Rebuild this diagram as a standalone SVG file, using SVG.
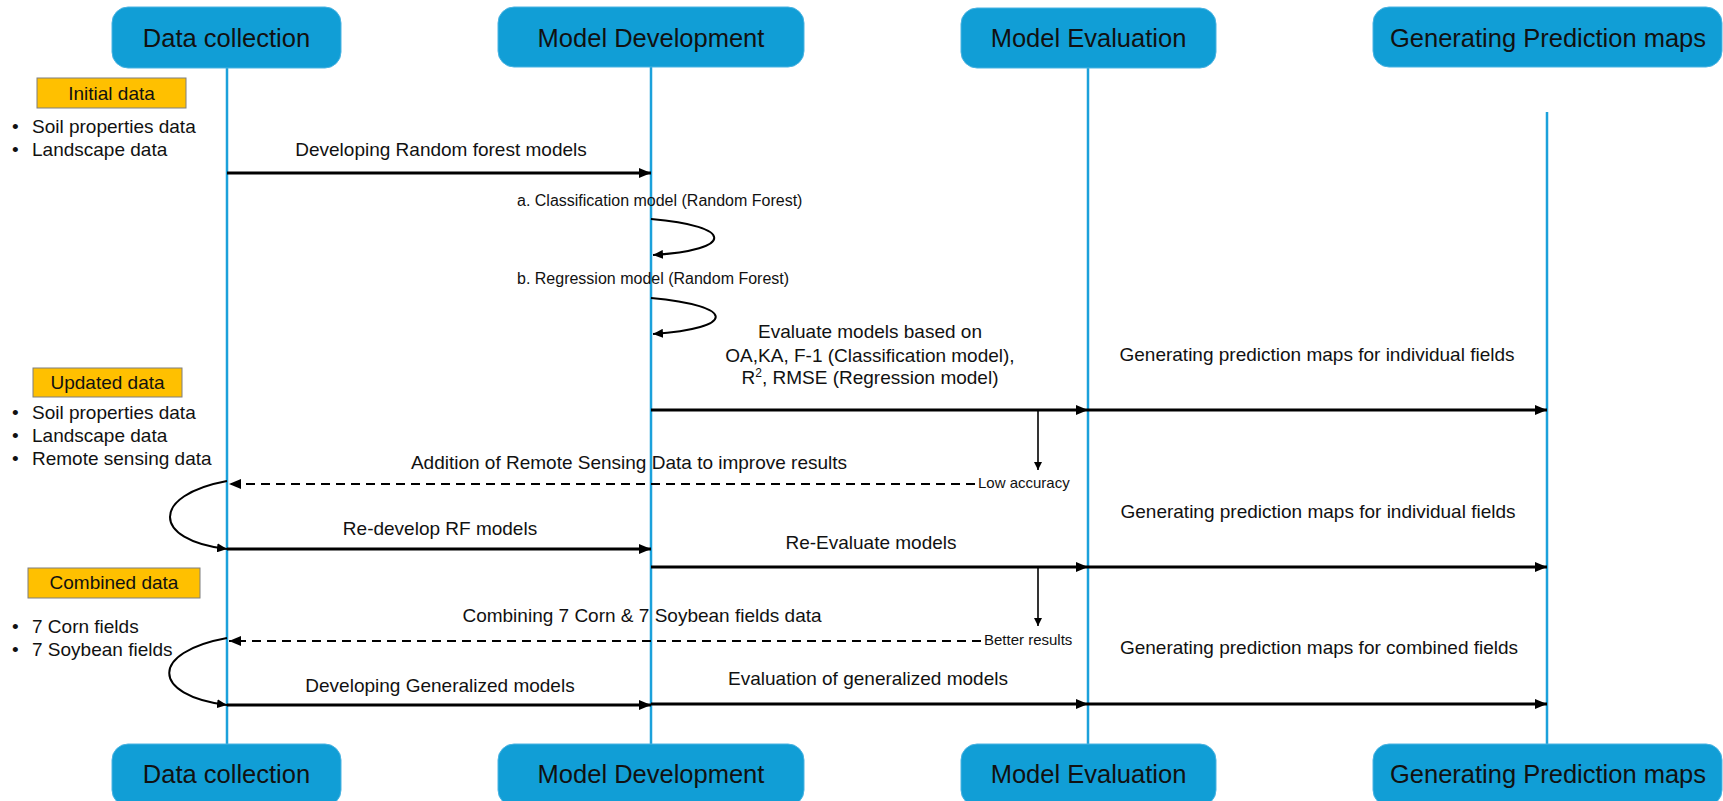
<svg xmlns="http://www.w3.org/2000/svg" width="1723" height="801" viewBox="0 0 1723 801">
<style>
text{font-family:"Liberation Sans",Arial,sans-serif;fill:#111}
.hdr{fill:#119ed6;stroke:#4ab3e2;stroke-width:1}
.hdrt{font-size:25.5px;text-anchor:middle}
.tag{fill:#ffc000;stroke:#7f7f7f;stroke-width:1}
.tagt{font-size:19px;text-anchor:middle}
.b{font-size:19px}
.lbl{font-size:19px;text-anchor:middle}
.sm{font-size:16px}
.xs{font-size:15px}
.life{stroke:#1ba1db;stroke-width:2.5;fill:none}
.msg{stroke:#000;stroke-width:3;fill:none;marker-end:url(#ah)}
.dash{stroke:#000;stroke-width:2.2;fill:none;stroke-dasharray:9 6;marker-end:url(#ah)}
.loop{stroke:#000;stroke-width:2;fill:none;marker-end:url(#ah2)}
.down{stroke:#000;stroke-width:1.6;fill:none;marker-end:url(#ah3)}
</style>
<defs>
<marker id="ah" markerUnits="userSpaceOnUse" markerWidth="12" markerHeight="10" refX="12" refY="5" orient="auto"><path d="M0,0 L12,5 L0,10 z" fill="#000"/></marker>
<marker id="ah2" markerUnits="userSpaceOnUse" markerWidth="10" markerHeight="9" refX="10" refY="4.5" orient="auto"><path d="M0,0 L10,4.5 L0,9 z" fill="#000"/></marker>
<marker id="ah3" markerUnits="userSpaceOnUse" markerWidth="8" markerHeight="8" refX="8" refY="4" orient="auto"><path d="M0,0 L8,4 L0,8 z" fill="#000"/></marker>
</defs>
<rect width="1723" height="801" fill="#fff"/>

<g id="lifelines">
<line class="life" x1="227" y1="68" x2="227" y2="745"/>
<line class="life" x1="651" y1="67" x2="651" y2="745"/>
<line class="life" x1="1088" y1="68" x2="1088" y2="745"/>
<line class="life" x1="1547" y1="112" x2="1547" y2="745"/>
</g>

<g id="node-data-collection-top"><rect class="hdr" x="112" y="7" width="229" height="61" rx="16"/><text class="hdrt" x="226.5" y="47">Data collection</text></g>
<g id="node-model-development-top"><rect class="hdr" x="498" y="7" width="306" height="60" rx="16"/><text class="hdrt" x="651" y="47">Model Development</text></g>
<g id="node-model-evaluation-top"><rect class="hdr" x="961" y="8" width="255" height="60" rx="16"/><text class="hdrt" x="1088.5" y="47">Model Evaluation</text></g>
<g id="node-prediction-maps-top"><rect class="hdr" x="1373" y="7" width="349" height="60" rx="16"/><text class="hdrt" x="1548" y="47">Generating Prediction maps</text></g>

<g id="node-data-collection-bottom"><rect class="hdr" x="112" y="744" width="229" height="62" rx="16"/><text class="hdrt" x="226.5" y="783">Data collection</text></g>
<g id="node-model-development-bottom"><rect class="hdr" x="498" y="744" width="306" height="62" rx="16"/><text class="hdrt" x="651" y="783">Model Development</text></g>
<g id="node-model-evaluation-bottom"><rect class="hdr" x="961" y="744" width="255" height="62" rx="16"/><text class="hdrt" x="1088.5" y="783">Model Evaluation</text></g>
<g id="node-prediction-maps-bottom"><rect class="hdr" x="1373" y="744" width="349" height="62" rx="16"/><text class="hdrt" x="1548" y="783">Generating Prediction maps</text></g>

<g id="node-initial-data"><rect class="tag" x="37" y="78" width="149" height="30"/><text class="tagt" x="111.5" y="100">Initial data</text>
<text class="b" x="12" y="133">•</text><text class="b" x="32" y="133">Soil properties data</text>
<text class="b" x="12" y="156">•</text><text class="b" x="32" y="156">Landscape data</text></g>

<g id="node-updated-data"><rect class="tag" x="33" y="368" width="149" height="29"/><text class="tagt" x="107.5" y="389">Updated data</text>
<text class="b" x="12" y="419">•</text><text class="b" x="32" y="419">Soil properties data</text>
<text class="b" x="12" y="442">•</text><text class="b" x="32" y="442">Landscape data</text>
<text class="b" x="12" y="465">•</text><text class="b" x="32" y="465">Remote sensing data</text></g>

<g id="node-combined-data"><rect class="tag" x="28" y="568" width="172" height="30"/><text class="tagt" x="114" y="589">Combined data</text>
<text class="b" x="12" y="633">•</text><text class="b" x="32" y="633">7 Corn fields</text>
<text class="b" x="12" y="656">•</text><text class="b" x="32" y="656">7 Soybean fields</text></g>

<g id="connectors">
<line class="msg" x1="227" y1="173" x2="651" y2="173"/>
<path class="loop" d="M651,219 C735,226 735,250 653,255"/>
<path class="loop" d="M651,298 C737,306 737,328 653,334"/>
<line class="msg" x1="651" y1="410" x2="1088" y2="410"/>
<line class="msg" x1="1088" y1="410" x2="1547" y2="410"/>
<line class="down" x1="1038" y1="410" x2="1038" y2="470"/>
<line class="dash" x1="975" y1="484" x2="229" y2="484"/>
<path class="loop" d="M227,481 C151,495 151,540 227,549"/>
<line class="msg" x1="227" y1="549" x2="651" y2="549"/>
<line class="msg" x1="651" y1="567" x2="1088" y2="567"/>
<line class="msg" x1="1088" y1="567" x2="1547" y2="567"/>
<line class="down" x1="1038" y1="567" x2="1038" y2="626"/>
<line class="dash" x1="981" y1="641" x2="229" y2="641"/>
<path class="loop" d="M227,638 C150,652 150,695 227,705"/>
<line class="msg" x1="227" y1="705" x2="651" y2="705"/>
<line class="msg" x1="651" y1="704" x2="1088" y2="704"/>
<line class="msg" x1="1088" y1="704" x2="1547" y2="704"/>
</g>

<g id="labels">
<text class="lbl" x="441" y="156">Developing Random forest models</text>
<text class="sm" x="517" y="206">a. Classification model (Random Forest)</text>
<text class="sm" x="517" y="284">b. Regression model (Random Forest)</text>
<text class="lbl" x="870" y="338">Evaluate models based on</text>
<text class="lbl" x="870" y="362">OA,KA, F-1 (Classification model),</text>
<text class="lbl" x="870" y="384">R<tspan font-size="12" dy="-7">2</tspan><tspan dy="7">, RMSE (Regression model)</tspan></text>
<text class="lbl" x="1317" y="361">Generating prediction maps for individual fields</text>
<text class="lbl" x="629" y="469">Addition of Remote Sensing Data to improve results</text>
<text class="xs" x="978" y="488">Low accuracy</text>
<text class="lbl" x="1318" y="518">Generating prediction maps for individual fields</text>
<text class="lbl" x="440" y="535">Re-develop RF models</text>
<text class="lbl" x="871" y="549">Re-Evaluate models</text>
<text class="lbl" x="642" y="622">Combining 7 Corn &amp; 7 Soybean fields data</text>
<text class="xs" x="984" y="645">Better results</text>
<text class="lbl" x="1319" y="654">Generating prediction maps for combined fields</text>
<text class="lbl" x="868" y="685">Evaluation of generalized models</text>
<text class="lbl" x="440" y="692">Developing Generalized models</text>
</g>
</svg>
